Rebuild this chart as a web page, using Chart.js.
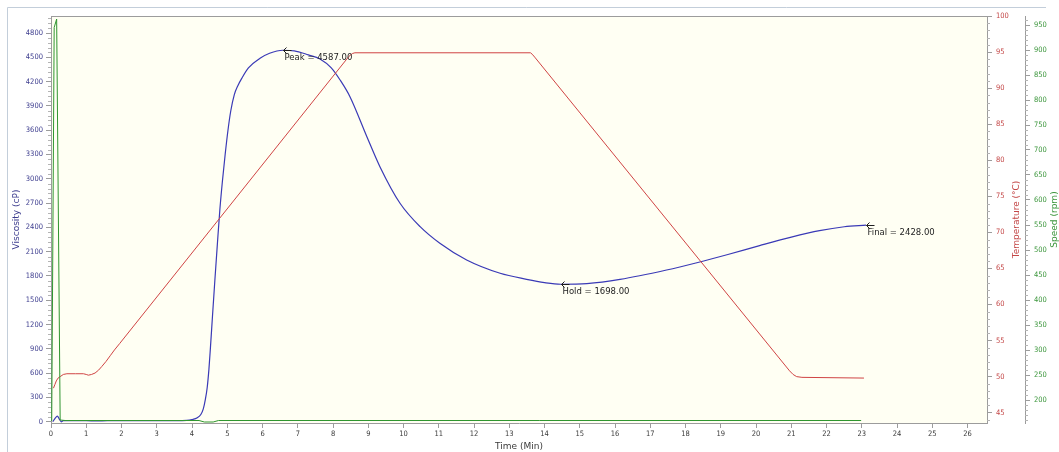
<!DOCTYPE html>
<html>
<head>
<meta charset="utf-8">
<script src="https://cdn.jsdelivr.net/npm/chart.js@4.4.0/dist/chart.umd.min.js"></script>
<style>
  html, body { margin: 0; padding: 0; background: #ffffff; }
  #wrap { width: 1059px; height: 452px; position: relative; }
</style>
</head>
<body>
<div id="wrap"><canvas id="c" width="1059" height="452"></canvas></div>
<script>
// Viscosity profile (cP) against time (min)
const viscTime  = [0.05, 0.12, 0.18, 0.24, 0.29, 0.35, 1.0, 1.3, 1.6, 2.5, 3.5, 3.85, 4.0, 4.15, 4.25, 4.32, 4.38, 4.43, 4.48, 4.52, 4.58, 4.65, 4.72, 4.79, 4.86, 4.94, 5.02, 5.1, 5.2, 5.3, 5.41, 5.6, 5.93, 6.2, 6.58, 6.9, 7.3, 7.63, 7.95, 8.2, 8.48, 8.96, 9.33, 9.9, 10.47, 11.03, 11.79, 12.74, 13.49, 14.0, 14.46, 15.2, 16.14, 17.46, 18.32, 19.2, 20.1, 21.0, 21.8, 22.5, 23.12];
const viscosity = [0, 45, 70, 30, 0, 14, 14, 10, 13, 13, 14, 18, 28, 50, 90, 160, 280, 420, 650, 900, 1300, 1760, 2200, 2620, 2960, 3300, 3600, 3840, 4040, 4150, 4240, 4370, 4488, 4550, 4587, 4580, 4530, 4480, 4370, 4220, 4014, 3520, 3150, 2698, 2409, 2204, 1998, 1834, 1759, 1718, 1698, 1706, 1758, 1874, 1964, 2065, 2175, 2280, 2360, 2408, 2428];

// Temperature profile (°C)
const tempTime    = [0.07, 0.11, 0.15, 0.2, 0.26, 0.35, 0.45, 0.7, 0.92, 1.0, 1.06, 1.15, 1.25, 1.35, 1.44, 1.56, 1.68, 1.8, 1.95, 8.45, 8.55, 8.62, 13.6, 13.65, 13.72, 20.95, 21.05, 21.15, 21.3, 23.06];
const temperature = [48.4, 48.9, 49.4, 49.8, 50.0, 50.3, 50.4, 50.4, 50.4, 50.3, 50.2, 50.3, 50.5, 50.9, 51.4, 52.1, 52.9, 53.7, 54.6, 94.4, 94.8, 94.9, 94.9, 94.7, 94.3, 50.8, 50.3, 50.0, 49.9, 49.8];

// Paddle speed (rpm)
const speedTime = [0.02, 0.09, 0.16, 0.26, 0.4, 4.2, 4.35, 4.6, 4.75, 22.98];
const speed     = [158, 945, 962, 160, 159, 159, 156, 156, 159, 159];

// Axis tick values
const timeTicks  = [0, 1, 2, 3, 4, 5, 6, 7, 8, 9, 10, 11, 12, 13, 14, 15, 16, 17, 18, 19, 20, 21, 22, 23, 24, 25, 26];
const viscTicks  = [0, 300, 600, 900, 1200, 1500, 1800, 2100, 2400, 2700, 3000, 3300, 3600, 3900, 4200, 4500, 4800];
const tempTicks  = [45, 50, 55, 60, 65, 70, 75, 80, 85, 90, 95, 100];
const speedTicks = [200, 250, 300, 350, 400, 450, 500, 550, 600, 650, 700, 750, 800, 850, 900, 950];

// Labelled points on the viscosity curve
const markNames  = ['Peak', 'Hold', 'Final'];
const markTime   = [6.58, 14.46, 23.12];
const markValues = [4587, 1698, 2428];

const toPoints = (xs, ys) => xs.map((x, i) => ({ x: x, y: ys[i] }));

const AXIS_GREY = '#9c9c9c';
const TICK_FONT = { family: "'DejaVu Sans Condensed', 'DejaVu Sans', sans-serif", size: 7.5 };
const TITLE_FONT = { family: "'DejaVu Sans', sans-serif", size: 9 };
const BLUE_TXT = '#3c3c8e';
const RED_TXT = '#c44848';
const GREEN_TXT = '#3c963c';
const plain = v => String(v);

function fixedTicks(values) {
  return function (scale) { scale.ticks = values.map(v => ({ value: v })); };
}

// Background, plot fill and outer frame
const backdrop = {
  id: 'backdrop',
  beforeDraw(chart) {
    const { ctx, chartArea: a } = chart;
    ctx.save();
    ctx.fillStyle = '#ffffff';
    ctx.fillRect(0, 0, chart.width, chart.height);
    ctx.fillStyle = '#fffff3';
    ctx.fillRect(a.left, a.top, a.right - a.left, a.bottom - a.top);
    ctx.strokeStyle = '#c3ceda';
    ctx.lineWidth = 1;
    ctx.beginPath();
    ctx.moveTo(7.5, 452);
    ctx.lineTo(7.5, 7.5);
    ctx.lineTo(1046, 7.5);
    ctx.stroke();
    ctx.restore();
  }
};

// Plot border, minor ticks, right-hand titles and point labels
const extras = {
  id: 'extras',
  afterDraw(chart) {
    const { ctx, chartArea: a, scales } = chart;
    ctx.save();
    ctx.strokeStyle = AXIS_GREY;
    ctx.lineWidth = 1;
    ctx.beginPath();
    ctx.moveTo(a.left, a.top + 0.5);
    ctx.lineTo(a.right, a.top + 0.5);
    ctx.stroke();

    // minor ticks
    function minor(scale, step, majorStep, x0, dir, len) {
      ctx.beginPath();
      const start = Math.ceil(scale.min / step) * step;
      for (let v = start; v <= scale.max + 1e-9; v += step) {
        if (Math.abs(v / majorStep - Math.round(v / majorStep)) < 1e-6) continue;
        const y = Math.round(scale.getPixelForValue(v)) + 0.5;
        ctx.moveTo(x0, y);
        ctx.lineTo(x0 + dir * len, y);
      }
      ctx.strokeStyle = '#b4b4b4';
      ctx.stroke();
    }
    minor(scales.y, 60, 300, scales.y.right, -1, 3);
    minor(scales.yT, 1, 5, scales.yT.left, 1, 3);
    minor(scales.yS, 10, 50, scales.yS.left, 1, 3);

    // right-hand axis titles, reading upwards
    const midY = (a.top + a.bottom) / 2;
    ctx.font = "9px 'DejaVu Sans', sans-serif";
    ctx.textAlign = 'center';
    ctx.textBaseline = 'middle';
    [[scales.yT.right - 8, RED_TXT, 'Temperature (°C)'],
     [scales.yS.right - 4, GREEN_TXT, 'Speed (rpm)']].forEach(([x, col, txt]) => {
      ctx.save();
      ctx.translate(x, midY);
      ctx.rotate(-Math.PI / 2);
      ctx.fillStyle = col;
      ctx.fillText(txt, 0, 0);
      ctx.restore();
    });

    // labelled points
    ctx.strokeStyle = '#1e1e1e';
    ctx.fillStyle = '#1e1e1e';
    ctx.font = "8.5px 'DejaVu Sans', sans-serif";
    ctx.textAlign = 'left';
    ctx.textBaseline = 'middle';
    markNames.forEach((name, i) => {
      const x = Math.round(scales.x.getPixelForValue(markTime[i])) + 0.5;
      const y = Math.round(scales.y.getPixelForValue(markValues[i])) + 0.5;
      ctx.beginPath();
      ctx.moveTo(x + 3, y - 3);
      ctx.lineTo(x, y);
      ctx.lineTo(x + 3, y + 3);
      ctx.moveTo(x, y);
      ctx.lineTo(x + 8, y);
      ctx.stroke();
      ctx.fillText(name + ' = ' + markValues[i].toFixed(2), x + 1, y + 7);
    });
    ctx.restore();
  }
};

new Chart(document.getElementById('c'), {
  type: 'line',
  data: {
    datasets: [
      {
        label: 'Speed',
        data: toPoints(speedTime, speed),
        yAxisID: 'yS',
        borderColor: '#2f962f',
        borderWidth: 1,
        pointRadius: 0,
        tension: 0
      },
      {
        label: 'Temperature',
        data: toPoints(tempTime, temperature),
        yAxisID: 'yT',
        borderColor: '#d04444',
        borderWidth: 1,
        pointRadius: 0,
        tension: 0
      },
      {
        label: 'Viscosity',
        data: toPoints(viscTime, viscosity),
        yAxisID: 'y',
        borderColor: '#3a3ab6',
        borderWidth: 1.2,
        pointRadius: 0,
        cubicInterpolationMode: 'monotone'
      }
    ]
  },
  options: {
    responsive: false,
    animation: false,
    devicePixelRatio: 1,
    layout: { padding: { top: 16, left: 0, right: 0, bottom: 0 } },
    plugins: { legend: { display: false }, tooltip: { enabled: false } },
    scales: {
      x: {
        type: 'linear',
        position: 'bottom',
        min: 0,
        max: 26.55,
        afterBuildTicks: fixedTicks(timeTicks),
        afterFit(s) { s.height = 29; },
        ticks: { font: TICK_FONT, color: '#3a3a3a', padding: 2, maxRotation: 0, autoSkip: false, callback: plain },
        grid: { drawOnChartArea: false, tickLength: 5, color: AXIS_GREY },
        border: { color: AXIS_GREY },
        title: { display: true, text: 'Time (Min)', font: TITLE_FONT, color: '#3a3a3a', padding: { top: 0, bottom: 0 } }
      },
      y: {
        type: 'linear',
        position: 'left',
        min: -15,
        max: 5010,
        afterBuildTicks: fixedTicks(viscTicks),
        afterFit(s) { s.width = 51; },
        ticks: { font: TICK_FONT, color: BLUE_TXT, padding: 3, autoSkip: false, callback: plain },
        grid: { drawOnChartArea: false, tickLength: 5, color: AXIS_GREY },
        border: { color: AXIS_GREY },
        title: { display: true, text: 'Viscosity (cP)', font: TITLE_FONT, color: BLUE_TXT, padding: { top: 11, bottom: 0 } }
      },
      yT: {
        type: 'linear',
        position: 'right',
        min: 43.57,
        max: 100,
        afterBuildTicks: fixedTicks(tempTicks),
        afterFit(s) { s.width = 38; },
        ticks: { font: TICK_FONT, color: RED_TXT, padding: 4, crossAlign: 'near', autoSkip: false, callback: plain },
        grid: { drawOnChartArea: false, tickLength: 5, color: AXIS_GREY },
        border: { color: AXIS_GREY }
      },
      yS: {
        type: 'linear',
        position: 'right',
        min: 154,
        max: 968,
        afterBuildTicks: fixedTicks(speedTicks),
        afterFit(s) { s.width = 34; },
        ticks: { font: TICK_FONT, color: GREEN_TXT, padding: 4, autoSkip: false, callback: plain },
        grid: { drawOnChartArea: false, tickLength: 5, color: AXIS_GREY },
        border: { color: AXIS_GREY }
      }
    }
  },
  plugins: [backdrop, extras]
});
</script>
</body>
</html>
